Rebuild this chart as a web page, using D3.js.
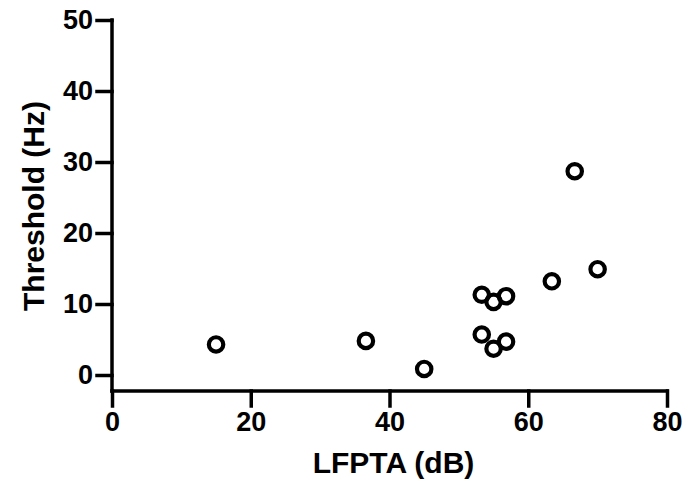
<!DOCTYPE html>
<html>
<head>
<meta charset="utf-8">
<script src="https://cdn.jsdelivr.net/npm/d3@7"></script>
<style>
  html, body { margin: 0; padding: 0; background: #fff; }
  svg { display: block; }
  text { font-family: "Liberation Sans", Arial, Helvetica, sans-serif; font-weight: bold; fill: #000; }
</style>
</head>
<body>
<script>
// Data
const lfpta     = [15.0, 36.6, 45.0, 53.3, 55.0, 56.8, 53.3, 55.0, 56.8, 63.4, 66.7, 70.0];
const threshold = [4.3, 4.8, 0.85, 5.7, 3.7, 4.7, 11.3, 10.3, 11.1, 13.2, 28.7, 14.9];
const xTicks = [0, 20, 40, 60, 80];
const yTicks = [0, 10, 20, 30, 40, 50];
const xLabel = "LFPTA (dB)";
const yLabel = "Threshold (Hz)";

const W = 684, H = 491;
const svg = d3.select("body").append("svg").attr("width", W).attr("height", H);

const x = d3.scaleLinear().domain([0, 80]).range([112, 667]);
const y = d3.scaleLinear().domain([0, 50]).range([375, 20]);
const xAxisY = 391;
const tick = 15;
const sw = 3.5;

// Y axis
const gy = svg.append("g").attr("transform", `translate(${x(0)},0)`)
  .call(d3.axisLeft(y).tickValues(yTicks).tickSize(tick).tickSizeOuter(0).tickPadding(4));
gy.select(".domain").remove();
gy.selectAll(".tick line").attr("stroke", "#000").attr("stroke-width", sw).attr("stroke-linecap", "square");
gy.selectAll(".tick text").attr("font-size", 27).attr("fill", "#000");
svg.append("line").attr("x1", x(0)).attr("x2", x(0)).attr("y1", y(50)).attr("y2", xAxisY)
  .attr("stroke", "#000").attr("stroke-width", sw).attr("stroke-linecap", "square");

// X axis
const gx = svg.append("g").attr("transform", `translate(0,${xAxisY})`)
  .call(d3.axisBottom(x).tickValues(xTicks).tickSize(tick).tickSizeOuter(0).tickPadding(6));
gx.select(".domain").remove();
gx.selectAll(".tick line").attr("stroke", "#000").attr("stroke-width", sw).attr("stroke-linecap", "square");
gx.selectAll(".tick text").attr("font-size", 27).attr("fill", "#000");
svg.append("line").attr("x1", x(0)).attr("x2", x(80)).attr("y1", xAxisY).attr("y2", xAxisY)
  .attr("stroke", "#000").attr("stroke-width", sw).attr("stroke-linecap", "square");

// Points
svg.append("g").selectAll("circle")
  .data(lfpta.map((v, i) => [v, threshold[i]]))
  .join("circle")
  .attr("cx", d => x(d[0]))
  .attr("cy", d => y(d[1]))
  .attr("r", 7.2)
  .attr("fill", "none")
  .attr("stroke", "#000")
  .attr("stroke-width", 4.2);

// Titles
svg.append("text").attr("x", (x(0) + x(80)) / 2 + 4).attr("y", 473)
  .attr("text-anchor", "middle").attr("font-size", 30).text(xLabel);
svg.append("text").attr("transform", `translate(44,${206}) rotate(-90)`)
  .attr("text-anchor", "middle").attr("font-size", 30).text(yLabel);
</script>
</body>
</html>
